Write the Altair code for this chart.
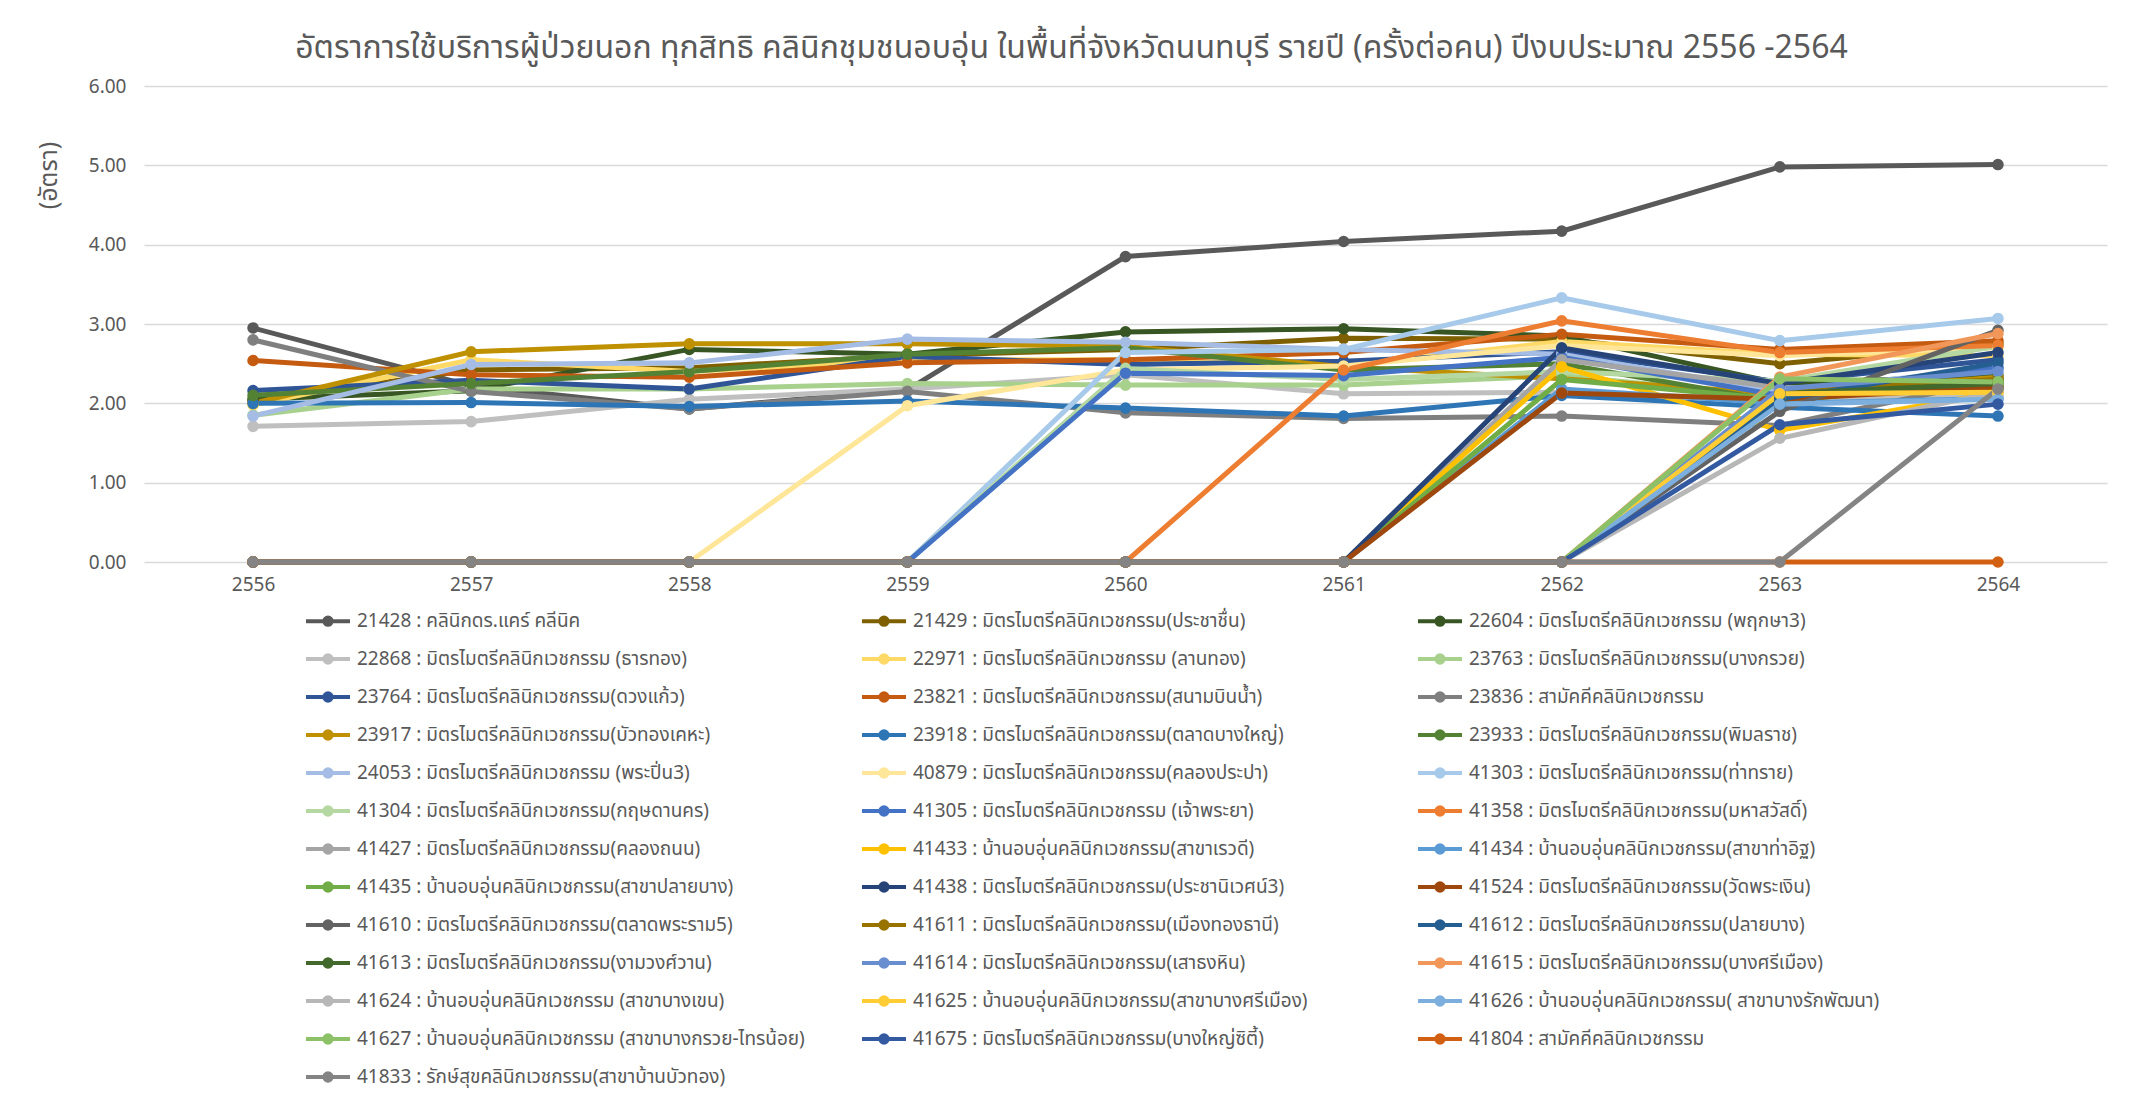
import altair as alt
import pandas as pd

years = ["2556", "2557", "2558", "2559", "2560", "2561", "2562", "2563", "2564"]

labels = [
    "21428 : คลินิกดร.แคร์ คลีนิค",
    "21429 : มิตรไมตรีคลินิกเวชกรรม(ประชาชื่น)",
    "22604 : มิตรไมตรีคลินิกเวชกรรม (พฤกษา3)",
    "22868 : มิตรไมตรีคลินิกเวชกรรม (ธารทอง)",
    "22971 : มิตรไมตรีคลินิกเวชกรรม (ลานทอง)",
    "23763 : มิตรไมตรีคลินิกเวชกรรม(บางกรวย)",
    "23764 : มิตรไมตรีคลินิกเวชกรรม(ดวงแก้ว)",
    "23821 : มิตรไมตรีคลินิกเวชกรรม(สนามบินน้ำ)",
    "23836 : สามัคคีคลินิกเวชกรรม",
    "23917 : มิตรไมตรีคลินิกเวชกรรม(บัวทองเคหะ)",
    "23918 : มิตรไมตรีคลินิกเวชกรรม(ตลาดบางใหญ่)",
    "23933 : มิตรไมตรีคลินิกเวชกรรม(พิมลราช)",
    "24053 : มิตรไมตรีคลินิกเวชกรรม (พระปิ่น3)",
    "40879 : มิตรไมตรีคลินิกเวชกรรม(คลองประปา)",
    "41303 : มิตรไมตรีคลินิกเวชกรรม(ท่าทราย)",
    "41304 : มิตรไมตรีคลินิกเวชกรรม(กฤษดานคร)",
    "41305 : มิตรไมตรีคลินิกเวชกรรม (เจ้าพระยา)",
    "41358 : มิตรไมตรีคลินิกเวชกรรม(มหาสวัสดิ์)",
    "41427 : มิตรไมตรีคลินิกเวชกรรม(คลองถนน)",
    "41433 : บ้านอบอุ่นคลินิกเวชกรรม(สาขาเรวดี)",
    "41434 : บ้านอบอุ่นคลินิกเวชกรรม(สาขาท่าอิฐ)",
    "41435 : บ้านอบอุ่นคลินิกเวชกรรม(สาขาปลายบาง)",
    "41438 : มิตรไมตรีคลินิกเวชกรรม(ประชานิเวศน์3)",
    "41524 : มิตรไมตรีคลินิกเวชกรรม(วัดพระเงิน)",
    "41610 : มิตรไมตรีคลินิกเวชกรรม(ตลาดพระราม5)",
    "41611 : มิตรไมตรีคลินิกเวชกรรม(เมืองทองธานี)",
    "41612 : มิตรไมตรีคลินิกเวชกรรม(ปลายบาง)",
    "41613 : มิตรไมตรีคลินิกเวชกรรม(งามวงศ์วาน)",
    "41614 : มิตรไมตรีคลินิกเวชกรรม(เสาธงหิน)",
    "41615 : มิตรไมตรีคลินิกเวชกรรม(บางศรีเมือง)",
    "41624 : บ้านอบอุ่นคลินิกเวชกรรม (สาขาบางเขน)",
    "41625 : บ้านอบอุ่นคลินิกเวชกรรม(สาขาบางศรีเมือง)",
    "41626 : บ้านอบอุ่นคลินิกเวชกรรม( สาขาบางรักพัฒนา)",
    "41627 : บ้านอบอุ่นคลินิกเวชกรรม (สาขาบางกรวย-ไทรน้อย)",
    "41675 : มิตรไมตรีคลินิกเวชกรรม(บางใหญ่ซิตี้)",
    "41804 : สามัคคีคลินิกเวชกรรม",
    "41833 : รักษ์สุขคลินิกเวชกรรม(สาขาบ้านบัวทอง)",
]

colors = [
    "#595959", "#7F6000", "#375623", "#BFBFBF", "#FFD966", "#A9D18E",
    "#2F5597", "#C55A11", "#7F7F7F", "#BF9000", "#2E75B6", "#548235",
    "#A5BDE5", "#FFE699", "#A7CAEB", "#B5D8A3", "#4472C4", "#ED7D31",
    "#A5A5A5", "#FFC000", "#5B9BD5", "#70AD47", "#264478", "#9E480E",
    "#636363", "#997300", "#255E91", "#43682B", "#698ED0", "#F1975A",
    "#B7B7B7", "#FFCD33", "#7CAFDD", "#8CC168", "#335AA1", "#D26012",
    "#848484",
]

s21428 = [2.95, 2.22, 1.93, 2.17, 3.85, 4.04, 4.17, 4.98, 5.01]
s21429 = [2.03, 2.42, 2.45, 2.60, 2.68, 2.82, 2.81, 2.50, 2.75]
s22604 = [2.05, 2.16, 2.68, 2.62, 2.90, 2.94, 2.85, 2.25, 2.35]
s22868 = [1.71, 1.77, 2.05, 2.18, 2.36, 2.12, 2.14, 2.05, 2.10]
s22971 = [1.98, 2.55, 2.40, 2.55, 2.55, 2.47, 2.78, 2.62, 2.60]
s23763 = [1.85, 2.18, 2.18, 2.25, 2.23, 2.23, 2.35, 2.08, 2.22]
s23764 = [2.16, 2.29, 2.18, 2.59, 2.49, 2.53, 2.65, 2.27, 2.55]
s23821 = [2.54, 2.36, 2.33, 2.51, 2.55, 2.64, 2.87, 2.68, 2.79]
s23836 = [2.80, 2.15, 1.93, 2.15, 1.88, 1.81, 1.84, 1.72, 2.30]
s23917 = [2.00, 2.65, 2.75, 2.75, 2.72, 2.46, 2.31, 2.12, 2.33]
s23918 = [2.00, 2.01, 1.96, 2.03, 1.94, 1.84, 2.10, 1.95, 1.84]
s23933 = [2.10, 2.25, 2.40, 2.62, 2.70, 2.42, 2.50, 2.02, 2.30]
s24053 = [1.84, 2.49, 2.51, 2.81, 2.77, 2.68, 2.62, 2.15, 2.45]
s40879 = [0, 0, 0, 1.97, 2.42, 2.47, 2.73, 2.60, 2.70]
s41303 = [0, 0, 0, 0, 2.64, 2.68, 3.33, 2.79, 3.07]
s41304 = [0, 0, 0, 0, 2.44, 2.30, 2.40, 2.28, 2.72]
s41305 = [0, 0, 0, 0, 2.38, 2.35, 2.58, 2.10, 2.45]
s41358 = [0, 0, 0, 0, 0, 2.42, 3.04, 2.64, 2.73]
s41427 = [0, 0, 0, 0, 0, 0, 2.55, 2.20, 2.20]
s41433 = [0, 0, 0, 0, 0, 0, 2.46, 1.66, 2.14]
s41434 = [0, 0, 0, 0, 0, 0, 2.18, 2.00, 2.06]
s41435 = [0, 0, 0, 0, 0, 0, 2.30, 2.05, 2.27]
s41438 = [0, 0, 0, 0, 0, 0, 2.70, 2.25, 2.64]
s41524 = [0, 0, 0, 0, 0, 0, 2.13, 2.05, 2.20]
s41610 = [0, 0, 0, 0, 0, 0, 0, 1.90, 2.92]
s41611 = [0, 0, 0, 0, 0, 0, 0, 2.15, 2.30]
s41612 = [0, 0, 0, 0, 0, 0, 0, 2.05, 2.51]
s41613 = [0, 0, 0, 0, 0, 0, 0, 2.12, 2.25]
s41614 = [0, 0, 0, 0, 0, 0, 0, 2.18, 2.40]
s41615 = [0, 0, 0, 0, 0, 0, 0, 2.33, 2.88]
s41624 = [0, 0, 0, 0, 0, 0, 0, 1.56, 2.15]
s41625 = [0, 0, 0, 0, 0, 0, 0, 2.12, 2.14]
s41626 = [0, 0, 0, 0, 0, 0, 0, 1.99, 2.05]
s41627 = [0, 0, 0, 0, 0, 0, 0, 2.31, 2.27]
s41675 = [0, 0, 0, 0, 0, 0, 0, 1.73, 1.99]
s41804 = [0, 0, 0, 0, 0, 0, 0, 0, 0]
s41833 = [0, 0, 0, 0, 0, 0, 0, 0, 2.18]

series_values = [
    s21428, s21429, s22604, s22868, s22971, s23763, s23764, s23821, s23836,
    s23917, s23918, s23933, s24053, s40879, s41303, s41304, s41305, s41358,
    s41427, s41433, s41434, s41435, s41438, s41524, s41610, s41611, s41612,
    s41613, s41614, s41615, s41624, s41625, s41626, s41627, s41675, s41804,
    s41833,
]

title_text = "อัตราการใช้บริการผู้ป่วยนอก ทุกสิทธิ คลินิกชุมชนอบอุ่น ในพื้นที่จังหวัดนนทบุรี รายปี (ครั้งต่อคน) ปีงบประมาณ 2556 -2564"
y_title = "(อัตรา)"

rows = []
for idx, (lab, vals) in enumerate(zip(labels, series_values)):
    for yr, v in zip(years, vals):
        rows.append({"series": lab, "year": yr, "rate": v, "idx": idx})
df = pd.DataFrame(rows)

FONT = "Tahoma, 'Leelawadee UI', 'Noto Sans Thai', 'Noto Sans', sans-serif"
TXT = "#595959"
SYM = "M-1.5,0L1.5,0M0.25,0A0.25,0.25 0 1 1 -0.25,0A0.25,0.25 0 1 1 0.25,0"

color = alt.Color(
    "series:N",
    scale=alt.Scale(domain=labels, range=colors),
    legend=alt.Legend(
        title=None,
        orient="none",
        direction="horizontal",
        legendX=167,
        legendY=518,
        columns=3,
        gridAlign="all",
        columnPadding=49,
        rowPadding=9,
        padding=0,
        symbolLimit=0,
        symbolType=SYM,
        symbolSize=860,
        symbolStrokeWidth=4,
        labelOffset=12,
        labelFontSize=19,
        labelFont=FONT,
        labelColor=TXT,
        labelLimit=800,
    ),
)

x = alt.X(
    "year:O",
    sort=years,
    scale=alt.Scale(type="point", padding=0.5),
    axis=alt.Axis(
        title=None, labelAngle=0, ticks=False, domain=False, grid=False,
        labelFontSize=19, labelFont=FONT, labelColor=TXT, labelPadding=13,
    ),
)
y = alt.Y(
    "rate:Q",
    scale=alt.Scale(domain=[0, 6], nice=False),
    axis=alt.Axis(
        title=y_title, values=[0, 1, 2, 3, 4, 5, 6], format=".2f",
        ticks=False, domain=False, grid=True, gridColor="#D9D9D9", gridWidth=1.5,
        labelFontSize=19, labelFont=FONT, labelColor=TXT, labelPadding=18,
        titleFontSize=25, titleFont=FONT, titleColor=TXT, titleFontWeight="normal",
        titleX=-96, titleY=89, titleAngle=270, titleAlign="center", titleBaseline="middle",
    ),
)

base = alt.Chart(df)
lines = base.mark_line(strokeWidth=5).encode(x=x, y=y, color=color, order="idx:Q")
points = base.mark_circle(size=135, opacity=1).encode(x=x, y=y, color=color)

chart = (
    alt.layer(lines, points)
    .properties(
        width=1963,
        height=476,
        title=alt.TitleParams(
            text=title_text, fontSize=32, font=FONT, color=TXT, fontWeight="normal",
            anchor="middle", dx=-54, offset=12,
        ),
        autosize=alt.AutoSizeParams(type="none"),
        padding={"left": 136, "top": 78, "right": 30, "bottom": 530},
    )
    .configure_view(stroke=None)
)

chart.save("out.html", embed_options={"renderer": "svg", "actions": False})
